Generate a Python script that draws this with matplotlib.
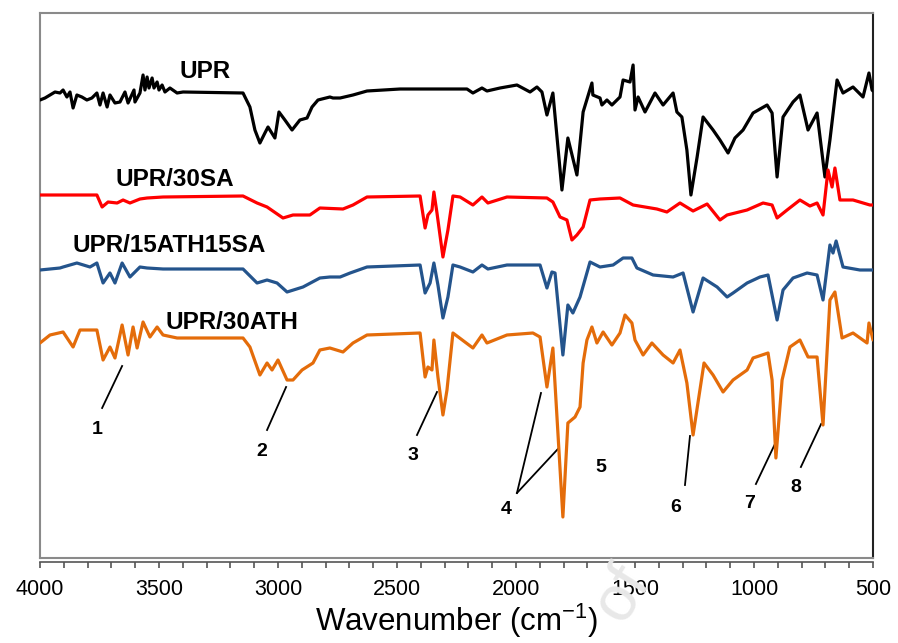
import matplotlib
matplotlib.use("Agg")
import matplotlib.pyplot as plt
from matplotlib.ticker import MultipleLocator

plt.rcParams['font.family'] = ['Liberation Sans', 'DejaVu Sans']
plt.rcParams['mathtext.default'] = 'regular'

# ---------------- data (relative transmittance, a.u.) ----------------
upr_wn = [4000, 3979, 3958, 3937, 3916, 3903, 3887, 3874, 3861, 3845, 3824, 3803, 3782, 3761,
          3748, 3735, 3718, 3706, 3685, 3664, 3643, 3630, 3605, 3601, 3580, 3567, 3559, 3550,
          3542, 3529, 3521, 3508, 3500, 3487, 3475, 3454, 3424, 3399, 3147, 3118, 3097, 3076,
          3055, 3042, 3013, 2996, 2971, 2941, 2908, 2878, 2857, 2832, 2782, 2769, 2739, 2685,
          2626, 2487, 2206, 2181, 2143, 2122, 2067, 1996, 1941, 1912, 1891, 1870, 1845, 1807,
          1782, 1744, 1718, 1681, 1677, 1647, 1639, 1618, 1597, 1563, 1550, 1521, 1508, 1500,
          1487, 1458, 1416, 1382, 1340, 1324, 1303, 1282, 1265, 1239, 1214, 1172, 1143, 1109,
          1080, 1046, 1004, 945, 924, 903, 878, 836, 807, 773, 735, 702, 681, 651, 626, 584,
          542, 517, 504, 500]
upr_t = [-11, -9, -6, -3, -4, -1, -8, -3, -19, -6, -8, -11, -9, -4,
         -16, -4, -18, -6, -14, -13, -3, -14, -1, -13, -4, 14, -1, 12,
         1, 11, 1, 7, -1, 4, -3, 1, -4, -3, -4, -18, -41, -54,
         -44, -38, -49, -23, -31, -41, -31, -29, -18, -11, -8, -9, -9, -6,
         -2, 0, 0, -4, 1, -2, 1, 4, -3, 2, -3, -26, -4, -101,
         -49, -86, -23, 6, -6, -9, -16, -11, -16, -8, 9, 7, 24, -21,
         -8, -23, -4, -16, -4, -23, -28, -61, -106, -68, -28, -41, -51, -64,
         -49, -41, -24, -16, -24, -88, -28, -13, -6, -41, -24, -88, -51, 9, -4, 2,
         -8, 16, -1, -2]

sa_wn = [4000, 3903, 3761, 3739, 3714, 3676, 3651, 3622, 3580, 3550, 3483, 3147, 3088, 3046,
         2979, 2937, 2878, 2866, 2824, 2727, 2685, 2626, 2403, 2382, 2370, 2353, 2345, 2332,
         2307, 2286, 2265, 2235, 2181, 2143, 2118, 2038, 1870, 1845, 1815, 1786, 1765, 1744,
         1718, 1689, 1647, 1563, 1508, 1408, 1366, 1311, 1256, 1197, 1143, 1113, 1029, 962,
         924, 903, 861, 807, 765, 735, 710, 689, 672, 660, 639, 584, 513, 500]
sa_t = [1, 1, 1, -11, -6, -7, -4, -7, -3, -2, -1, 0, -7, -11,
        -22, -19, -19, -19, -12, -13, -9, -1, 0, -32, -19, -14, 4, -17,
        -61, -34, 0, -1, -9, -1, -7, -1, -2, -6, -21, -24, -44, -39,
        -31, -4, -3, -2, -9, -13, -16, -7, -15, -8, -24, -19, -14, -7,
        -9, -22, -14, -4, -10, -7, -19, 26, 9, 28, -4, -4, -9, -9]

ath_sa_wn = [4000, 3916, 3903, 3845, 3790, 3761, 3735, 3706, 3685, 3655, 3622, 3580, 3550, 3483,
             3147, 3088, 3046, 3004, 2962, 2895, 2824, 2782, 2739, 2697, 2626, 2403, 2382, 2361,
             2345, 2328, 2307, 2286, 2265, 2235, 2181, 2143, 2118, 2038, 1899, 1870, 1849, 1836,
             1803, 1782, 1761, 1731, 1689, 1647, 1592, 1550, 1513, 1492, 1424, 1340, 1298, 1256,
             1214, 1155, 1113, 1088, 1029, 975, 941, 903, 878, 836, 777, 735, 710, 681, 668, 655,
             626, 555, 500]
ath_sa_t = [-5, -3, -2, 2, -2, 2, -18, -8, -18, 2, -12, -2, -3, -4,
            -4, -18, -15, -18, -27, -22, -13, -12, -12, -8, -2, 0, -28, -18,
            2, -20, -53, -32, 0, -2, -7, 0, -4, 0, 0, -23, -7, -8,
            -90, -40, -48, -32, 3, -2, 0, 7, 7, -3, -10, -12, -8, -47,
            -13, -22, -32, -28, -18, -12, -10, -55, -25, -13, -8, -10, -35, 20, 12, 24,
            -2, -5, -5]

ath_wn = [4000, 3958, 3903, 3861, 3832, 3761, 3735, 3706, 3685, 3655, 3630, 3609, 3592, 3567,
          3538, 3508, 3483, 3424, 3147, 3118, 3076, 3046, 3025, 3000, 2962, 2937, 2899, 2853,
          2824, 2782, 2727, 2685, 2626, 2403, 2382, 2370, 2353, 2345, 2328, 2307, 2290, 2265,
          2181, 2143, 2122, 2038, 1929, 1899, 1870, 1845, 1803, 1782, 1752, 1731, 1718, 1702,
          1681, 1660, 1634, 1597, 1563, 1542, 1513, 1500, 1466, 1429, 1382, 1340, 1311, 1282,
          1256, 1210, 1172, 1130, 1088, 1029, 1004, 941, 924, 908, 882, 849, 807, 773, 735,
          710, 681, 660, 630, 584, 525, 517, 500]
ath_t = [-10, -2, 1, -14, 3, 3, -27, -14, -25, 8, -22, 6, -15, 11,
         -4, 6, -2, -5, -5, -14, -42, -30, -37, -27, -47, -47, -37, -30,
         -17, -15, -19, -10, -2, 0, -44, -34, -37, -7, -44, -82, -57, 0,
         -15, -2, -10, -2, 0, -4, -54, -15, -184, -90, -84, -74, -30, -7,
         6, -10, 1, -12, 0, 18, 10, -7, -22, -10, -22, -30, -17, -50,
         -102, -30, -42, -59, -47, -37, -25, -20, -47, -125, -47, -14, -7, -24, -24,
         -92, 33, 41, -5, 0, -10, 10, -7]

series_names = ["UPR", "UPR/30SA", "UPR/15ATH15SA", "UPR/30ATH"]
series_colors = ["#000000", "#FF0000", "#24548C", "#E46C0A"]
series_offsets = [469, 362, 293, 225]

peak_labels = ["1", "2", "3", "4", "5", "6", "7", "8"]

# ---------------- figure ----------------
W, H = 898, 643
fig = plt.figure(figsize=(W / 100, H / 100), dpi=100)
ax = fig.add_axes([40 / W, (H - 558) / H, 833 / W, 545 / H])

data = [(upr_wn, upr_t), (sa_wn, sa_t), (ath_sa_wn, ath_sa_t), (ath_wn, ath_t)]
for (wn, t), c, off in zip(data, series_colors, series_offsets):
    ax.plot(wn, [v + off for v in t], color=c, lw=2.3, solid_joinstyle='round',
            solid_capstyle='round', zorder=3)

ax.set_xlim(4000, 500)
ax.set_ylim(0, 545)
ax.set_yticks([])
ax.xaxis.set_major_locator(MultipleLocator(500))
ax.xaxis.set_minor_locator(MultipleLocator(100))
ax.tick_params(axis='x', which='both', direction='out', length=4, width=1.2,
               color='#555555', labelsize=15.5, pad=8)

for s in ['left', 'top']:
    ax.spines[s].set_color('#8a8a8a')
    ax.spines[s].set_linewidth(1.5)
ax.spines['right'].set_color('#222222')
ax.spines['right'].set_linewidth(1.5)
ax.spines['bottom'].set_position(('outward', 3))
ax.spines['bottom'].set_color('#555555')
ax.spines['bottom'].set_linewidth(1.2)
ax.plot([0, 1], [0, 0], transform=ax.transAxes, color='#8a8a8a', lw=1.5,
        clip_on=False, zorder=4)

ax.set_xlabel('Wavenumber (cm$^{-1}$)', fontsize=22.5, labelpad=1)

# series labels
label_pos = [(3307, 487), (3433, 379), (3458, 313), (3193, 236)]
for name, (lx, ly) in zip(series_names, label_pos):
    ax.text(lx, ly, name, fontsize=17.5, fontweight='bold', ha='center', va='center')

# peak annotations
peak_text_pos = [(3761, 128), (3067, 106), (2433, 103), (2042, 48), (1643, 91),
                 (1328, 51), (1017, 55), (823, 70)]
peak_lines = [[((3739, 150), (3655, 192))],
              [((3046, 128), (2966, 171))],
              [((2416, 123), (2332, 166))],
              [((1996, 65), (1895, 165)), ((1996, 65), (1824, 109))],
              [],
              [((1290, 73), (1269, 122))],
              [((992, 74), (908, 116))],
              [((803, 91), (718, 134))]]
for lab, (tx, ty), lines in zip(peak_labels, peak_text_pos, peak_lines):
    ax.text(tx, ty, lab, fontsize=14, fontweight='bold', ha='center', va='center')
    for (x0, y0), (x1, y1) in lines:
        ax.plot([x0, x1], [y0, y1], color='black', lw=1.3, zorder=2)

# faint watermark fragment
fig.text(622 / W, 1 - 593 / H, 'of', fontsize=46, color='#e8e8e8', rotation=58,
         ha='center', va='center', zorder=0)

fig.savefig('out.png', dpi=100)
